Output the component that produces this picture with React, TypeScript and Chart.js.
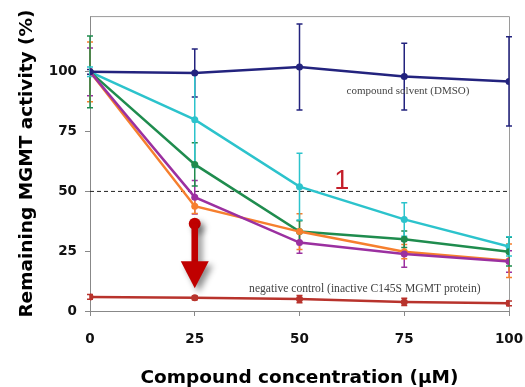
import React, { useEffect, useRef } from "react";
import { Chart, registerables } from "chart.js";

Chart.register(...registerables);

const concentrations = [0, 25, 50, 75, 100];
const yTickValues = [0, 25, 50, 75, 100];

const dmsoValues = [100, 99.5, 102, 98, 96];
const dmsoErrors = [1, 10, 18, 14, 18.7];
const cyanValues = [100, 80, 52, 38.3, 27];
const cyanErrors = [2, 20, 14, 7, 4];
const greenValues = [100, 61.3, 33.2, 30, 24.8];
const greenErrors = [15, 9, 4.5, 3.5, 6];
const orangeValues = [100, 43.8, 33.2, 24.8, 21];
const orangeErrors = [12.5, 3, 7.5, 3, 7];
const purpleValues = [100, 47.6, 28.6, 23.8, 20.7];
const purpleErrors = [10, 7, 4.5, 5.5, 4.5];
const negativeValues = [5.9, 5.5, 5, 3.8, 3.2];
const negativeErrors = [1, 0.8, 1.5, 1.5, 1];

const thresholdValue = 50;
const arrowX = 25;
const arrowFrom = 36.5;
const arrowTo = 9.5;

const dmsoLabel = "compound solvent (DMSO)";
const dmsoLabelPos = { x: 75.9, y: 91.8 };
const negativeLabel = "negative control (inactive C145S MGMT protein)";
const negativeLabelPos = { x: 65.6, y: 9.4 };
const compoundLabel = "1";
const compoundLabelPos = { x: 60.1, y: 54.2 };

const series = [
  { label: "DMSO", values: dmsoValues, errors: dmsoErrors, color: "#23237e" },
  { label: "purple", values: purpleValues, errors: purpleErrors, color: "#9b30a0" },
  { label: "orange", values: orangeValues, errors: orangeErrors, color: "#f67f2e" },
  { label: "green", values: greenValues, errors: greenErrors, color: "#1f8c4e" },
  { label: "cyan", values: cyanValues, errors: cyanErrors, color: "#2cc3cc" },
  { label: "negative", values: negativeValues, errors: negativeErrors, color: "#b8332c" },
];

const decorPlugin = {
  id: "decor",
  beforeDatasetsDraw(chart: any) {
    const { ctx, chartArea, scales } = chart;
    const xs = scales.x;
    const ys = scales.y;
    ctx.save();
    ctx.strokeStyle = "#9a9a9a";
    ctx.lineWidth = 1;
    ctx.beginPath();
    ctx.moveTo(chartArea.left, chartArea.top + 0.5);
    ctx.lineTo(chartArea.right + 0.5, chartArea.top + 0.5);
    ctx.lineTo(chartArea.right + 0.5, chartArea.bottom);
    ctx.stroke();
    const ty = ys.getPixelForValue(thresholdValue);
    ctx.strokeStyle = "#222";
    ctx.setLineDash([4, 3]);
    ctx.beginPath();
    ctx.moveTo(chartArea.left, ty);
    ctx.lineTo(chartArea.right, ty);
    ctx.stroke();
    ctx.setLineDash([]);
    series.forEach((s) => {
      ctx.strokeStyle = s.color;
      ctx.lineWidth = 1.5;
      s.values.forEach((v, i) => {
        const px = xs.getPixelForValue(concentrations[i]);
        const top = ys.getPixelForValue(v + s.errors[i]);
        const bot = ys.getPixelForValue(v - s.errors[i]);
        ctx.beginPath();
        ctx.moveTo(px, top);
        ctx.lineTo(px, bot);
        ctx.moveTo(px - 3, top);
        ctx.lineTo(px + 3, top);
        ctx.moveTo(px - 3, bot);
        ctx.lineTo(px + 3, bot);
        ctx.stroke();
      });
    });
    ctx.restore();
  },
  afterDatasetsDraw(chart: any) {
    const { ctx, scales } = chart;
    const xs = scales.x;
    const ys = scales.y;
    ctx.save();
    ctx.fillStyle = "#444";
    ctx.textAlign = "center";
    ctx.textBaseline = "middle";
    ctx.font = "11px 'Liberation Serif', serif";
    ctx.fillText(dmsoLabel, xs.getPixelForValue(dmsoLabelPos.x), ys.getPixelForValue(dmsoLabelPos.y));
    ctx.font = "11.6px 'Liberation Serif', serif";
    ctx.fillText(negativeLabel, xs.getPixelForValue(negativeLabelPos.x), ys.getPixelForValue(negativeLabelPos.y));
    ctx.fillStyle = "#c41e2a";
    ctx.font = "27px 'Liberation Sans', Arial, sans-serif";
    ctx.fillText(compoundLabel, xs.getPixelForValue(compoundLabelPos.x), ys.getPixelForValue(compoundLabelPos.y));
    const ax = xs.getPixelForValue(arrowX);
    const ay0 = ys.getPixelForValue(arrowFrom);
    const ay1 = ys.getPixelForValue(arrowTo);
    const headH = 27;
    const headW = 14;
    ctx.shadowColor = "rgba(0,0,0,0.45)";
    ctx.shadowBlur = 6;
    ctx.shadowOffsetX = 4;
    ctx.shadowOffsetY = 4;
    ctx.fillStyle = "#c00000";
    ctx.beginPath();
    ctx.arc(ax, ay0, 6, 0, Math.PI * 2);
    ctx.fill();
    ctx.fillRect(ax - 3.3, ay0, 6.6, ay1 - headH - ay0 + 1);
    ctx.beginPath();
    ctx.moveTo(ax - headW, ay1 - headH);
    ctx.lineTo(ax + headW, ay1 - headH);
    ctx.lineTo(ax, ay1);
    ctx.closePath();
    ctx.fill();
    ctx.restore();
  },
};

export default function App() {
  const ref = useRef<HTMLCanvasElement>(null);
  useEffect(() => {
    document.body.style.margin = "0";
    const chart = new Chart(ref.current as HTMLCanvasElement, {
      type: "line",
      data: {
        datasets: series.map((s) => ({
          label: s.label,
          data: s.values.map((v, i) => ({ x: concentrations[i], y: v })),
          borderColor: s.color,
          backgroundColor: s.color,
          borderWidth: 2.5,
          pointRadius: 3.5,
          pointBorderWidth: 0,
          tension: 0,
          fill: false,
        })),
      },
      options: {
        animation: false,
        responsive: false,
        maintainAspectRatio: false,
        layout: { padding: { top: 13, right: 16, left: 0, bottom: 0 } },
        plugins: { legend: { display: false }, tooltip: { enabled: false } },
        scales: {
          x: {
            type: "linear",
            min: 0,
            max: 100,
            afterBuildTicks: (s: any) => {
              s.ticks = concentrations.map((v) => ({ value: v }));
            },
            afterFit: (s: any) => {
              s.height = 76;
              s.paddingLeft = 0;
              s.paddingRight = 0;
            },
            ticks: {
              color: "#111",
              padding: 15,
              font: { family: "'DejaVu Sans', sans-serif", weight: "bold", size: 13.5 },
              maxRotation: 0,
            },
            grid: { drawOnChartArea: false, drawTicks: true, tickLength: 5, color: "#888" },
            border: { display: true, color: "#888" },
            title: {
              display: true,
              text: "Compound concentration (µM)",
              color: "#000",
              font: { family: "'DejaVu Sans', sans-serif", weight: "bold", size: 18.5, lineHeight: 1 },
              padding: { top: 0, bottom: 0 },
            },
          },
          y: {
            type: "linear",
            min: 0,
            max: 123.3,
            afterBuildTicks: (s: any) => {
              s.ticks = yTickValues.map((v) => ({ value: v }));
            },
            afterFit: (s: any) => {
              s.width = 90;
            },
            ticks: {
              color: "#111",
              padding: 8,
              font: { family: "'DejaVu Sans', sans-serif", weight: "bold", size: 13.5 },
            },
            grid: { drawOnChartArea: false, drawTicks: true, tickLength: 5, color: "#888" },
            border: { display: true, color: "#888" },
            title: {
              display: true,
              text: "Remaining MGMT activity (%)",
              color: "#000",
              font: { family: "'DejaVu Sans', sans-serif", weight: "bold", size: 18.5, lineHeight: 1 },
              padding: { top: 18, bottom: 18 },
            },
          },
        },
      },
      plugins: [decorPlugin],
    } as any);
    return () => chart.destroy();
  }, []);
  return (
    <div style={{ position: "fixed", left: 0, top: 0, width: 525, height: 387, background: "#fff" }}>
      <canvas ref={ref} width={525} height={387} style={{ width: 525, height: 387 }} />
    </div>
  );
}
